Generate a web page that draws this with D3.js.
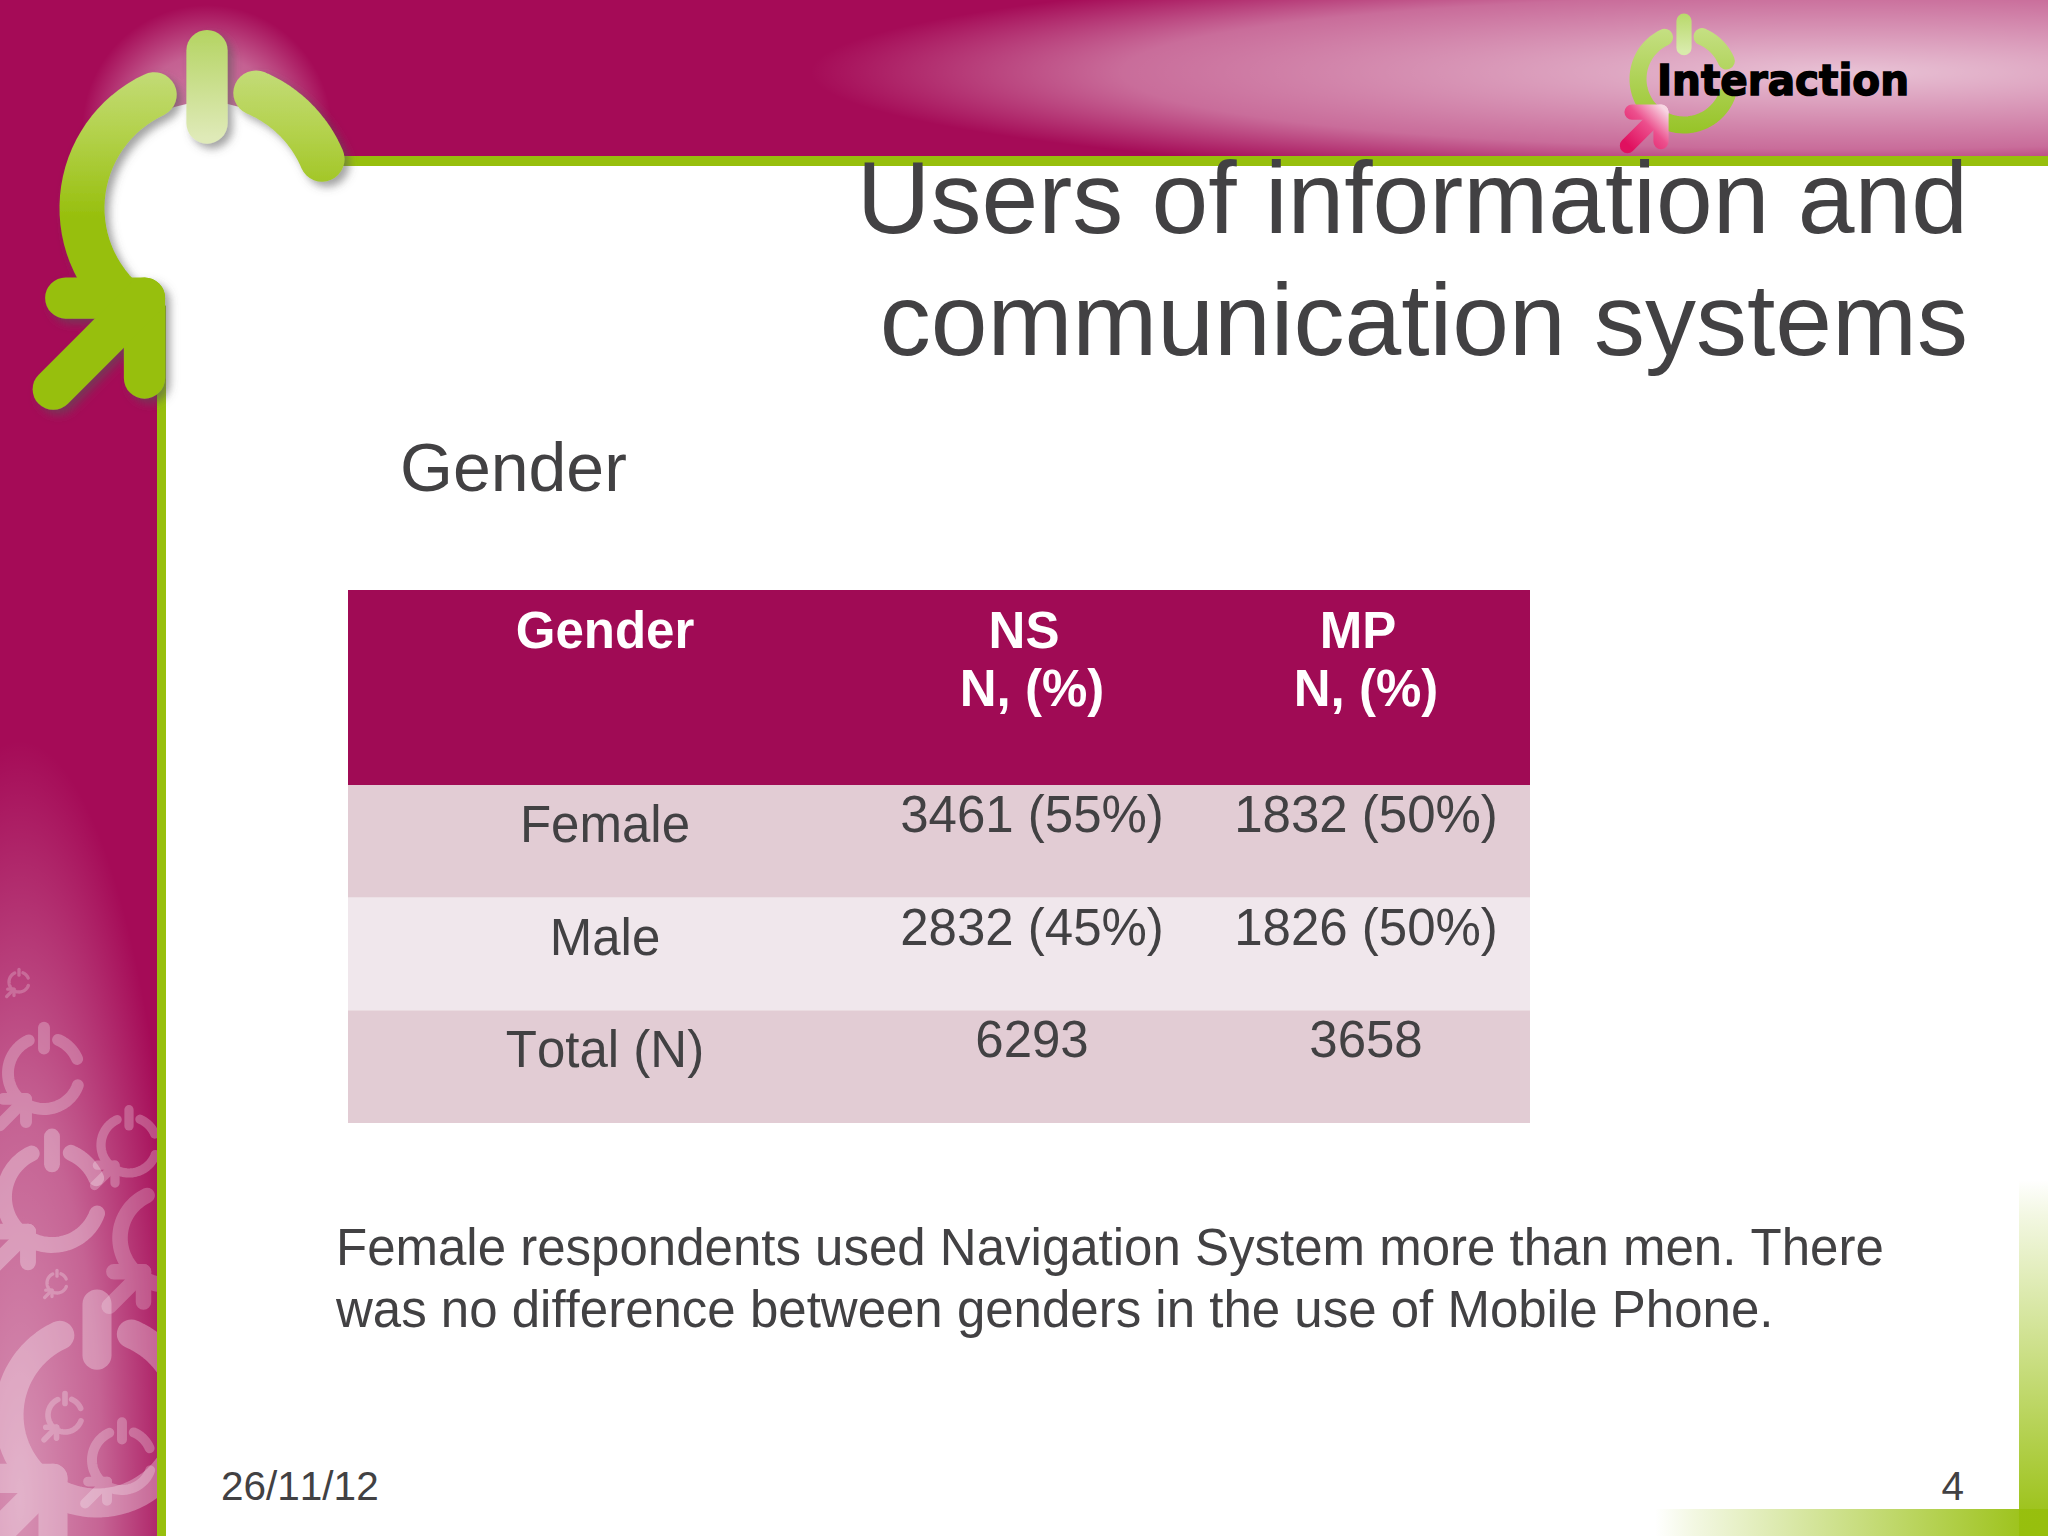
<!DOCTYPE html>
<html>
<head>
<meta charset="utf-8">
<script src="https://cdn.jsdelivr.net/npm/d3@7"></script>
<style>
  html, body { margin: 0; padding: 0; background: #fff; }
  svg { display: block; }
  text { font-family: "Liberation Sans", Arial, sans-serif; fill: #424143; font-kerning: none; }
</style>
</head>
<body>
<svg id="slide"></svg>
<script>
// table content
var columns = ["Gender", "NS", "MP"];
var subHeaders = ["", "N, (%)", "N, (%)"];
var rowLabels = ["Female", "Male", "Total (N)"];
var nsValues = ["3461 (55%)", "2832 (45%)", "6293"];
var mpValues = ["1832 (50%)", "1826 (50%)", "3658"];

var titleLines = ["Users of information and", "communication systems"];
var bodyLines = ["Female respondents used Navigation System more than men. There",
                 "was no difference between genders in the use of Mobile Phone."];

var width = 2048;
var height = 1536;
var purple = "#a50b57";
var green = "#97bf0d";

var svg = d3.select("#slide").attr("width", width).attr("height", height);
var defs = svg.append("defs");

function linear(id, x1, y1, x2, y2, stops, userSpace) {
  var g = defs.append("linearGradient").attr("id", id)
    .attr("x1", x1).attr("y1", y1).attr("x2", x2).attr("y2", y2);
  if (userSpace) g.attr("gradientUnits", "userSpaceOnUse");
  stops.forEach(function(s) {
    g.append("stop").attr("offset", s[0]).attr("stop-color", s[1]).attr("stop-opacity", s[2]);
  });
}
function radial(id, stops) {
  var g = defs.append("radialGradient").attr("id", id);
  stops.forEach(function(s) {
    g.append("stop").attr("offset", s[0]).attr("stop-color", s[1]).attr("stop-opacity", s[2]);
  });
}

linear("rightGreen", 0, 0, 0, 1, [[0, green, 0], [0.1, green, 0.12], [1, green, 1]]);
linear("bottomGreen", 0, 0, 1, 0, [[0, green, 0], [0.1, green, 0.12], [1, green, 1]]);
// these run in the logo's own coordinates
linear("bigRing", 0, -150, 0, 10, [[0, "#c6dd80", 1], [0.45, "#b4d24e", 1], [1, green, 1]], true);
linear("bigBar", 0, -176, 0, -70, [[0, "#b5d463", 1], [1, "#dfeab8", 1]], true);
linear("smallRing", 0, -60, 0, 60, [[0, "#c9e28b", 1], [1, "#94c222", 1]], true);
linear("smallBar", 0, -65, 0, -28, [[0, "#b9d96c", 1], [1, "#d8ebab", 1]], true);
linear("pinkArrow", -56, 66, -20, 30, [[0, "#e0105f", 1], [0.55, "#ec4f8d", 1], [1, "#f7d5e2", 1]], true);
radial("glow", [[0, "#fff", 0.5], [0.6, "#fff", 0.35], [1, "#fff", 0]]);
radial("topGlow", [[0, "#fff", 0.75], [0.7, "#fff", 0.4], [1, "#fff", 0]]);
radial("sideGlow", [[0, "#fff", 0.55], [0.5, "#fff", 0.36], [1, "#fff", 0]]);

var shadow = defs.append("filter").attr("id", "shadow")
  .attr("x", "-20%").attr("y", "-20%").attr("width", "150%").attr("height", "150%");
shadow.append("feDropShadow").attr("dx", 5).attr("dy", 5).attr("stdDeviation", 4)
  .attr("flood-color", "#555").attr("flood-opacity", 0.55);

defs.append("clipPath").attr("id", "headerClip").append("rect")
  .attr("width", width).attr("height", 156);
defs.append("clipPath").attr("id", "sideClip").append("rect")
  .attr("width", 157).attr("height", height);

// background
svg.append("rect").attr("width", width).attr("height", height).attr("fill", "#fff");
svg.append("rect").attr("width", width).attr("height", 156).attr("fill", purple);
svg.append("rect").attr("width", 157).attr("height", height).attr("fill", purple);

// top right glow
svg.append("g").attr("clip-path", "url(#headerClip)")
  .append("ellipse").attr("cx", 1850).attr("cy", 72).attr("rx", 1040).attr("ry", 110)
  .attr("fill", "url(#topGlow)");

// power button logo, r is the mid radius of the ring
function arcPath(r, from, to) {
  var pts = d3.range(0, 31).map(function(i) {
    var a = (from + (to - from) * i / 30) * Math.PI / 180;
    return [r * Math.sin(a), -r * Math.cos(a)];
  });
  return d3.line()(pts);
}
function drawLogo(parent, cx, cy, r, opts) {
  var g = parent.append("g").attr("transform", "translate(" + cx + "," + cy + ")")
    .attr("fill", "none").attr("stroke", opts.color)
    .attr("stroke-width", r * (opts.ring || 0.33))
    .attr("stroke-linecap", "round").attr("stroke-linejoin", "round")
    .attr("opacity", opts.opacity === undefined ? 1 : opts.opacity);
  g.append("path").attr("d", arcPath(r, 23, 67));
  g.append("path").attr("d", arcPath(r, 222, 335));
  if (opts.bottomArc) g.append("path").attr("d", arcPath(r, 110, 222));
  g.append("path").attr("d", "M0," + (-r * 1.26) + "L0," + (-r * 0.68))
    .attr("stroke", opts.barColor || opts.color).attr("stroke-width", r * 0.33);
  var arrow = g.append("g").attr("stroke", opts.arrowColor || opts.color).attr("stroke-width", r * 0.33);
  // the two barbs and then the shaft
  arrow.append("path").attr("d", "M" + (-r * 1.13) + "," + (r * 0.72) + "L" + (-r * 0.5) + "," + (r * 0.72)
    + "L" + (-r * 0.5) + "," + (r * 1.36));
  arrow.append("path").attr("d", "M" + (-r * 1.23) + "," + (r * 1.45) + "L" + (-r * 0.5) + "," + (r * 0.72));
  return g;
}

// left strip: glow and faded logos
var side = svg.append("g").attr("clip-path", "url(#sideClip)");
side.append("ellipse").attr("cx", 20).attr("cy", 1500).attr("rx", 165).attr("ry", 760)
  .attr("fill", "url(#sideGlow)");
[[19, 982, 10, 0.22], [44, 1073, 36, 0.25], [129, 1145, 28, 0.25], [52, 1197, 48, 0.3],
 [167, 1238, 47, 0.22], [57, 1283, 10, 0.25], [97, 1415, 88, 0.3], [65, 1415, 17, 0.25],
 [122, 1460, 30, 0.25]].forEach(function(d) {
  drawLogo(side, d[0], d[1], d[2], {color: "#fff", opacity: d[3], bottomArc: true});
});

// green rules and corner fades
svg.append("rect").attr("x", 166).attr("y", 156).attr("width", width - 166).attr("height", 10).attr("fill", green);
svg.append("rect").attr("x", 157).attr("y", 156).attr("width", 9).attr("height", height - 156).attr("fill", green);
svg.append("rect").attr("x", 2019).attr("y", 1180).attr("width", 29).attr("height", 356).attr("fill", "url(#rightGreen)");
svg.append("rect").attr("x", 1655).attr("y", 1509).attr("width", 393).attr("height", 27).attr("fill", "url(#bottomGreen)");

// big logo, the white disc sits over the purple
svg.append("circle").attr("cx", 207).attr("cy", 130).attr("r", 125).attr("fill", "url(#glow)").attr("clip-path", "url(#headerClip)");
svg.append("circle").attr("cx", 207).attr("cy", 208).attr("r", 106).attr("fill", "#fff");
svg.append("rect").attr("x", 166).attr("y", 208).attr("width", 60).attr("height", 110).attr("fill", "#fff");
drawLogo(svg, 207, 208, 125, {color: "url(#bigRing)", barColor: "url(#bigBar)", arrowColor: green, ring: 0.36})
  .attr("filter", "url(#shadow)");

// small logo at the top right
drawLogo(svg, 1684, 79, 46, {color: "url(#smallRing)", barColor: "url(#smallBar)", arrowColor: "url(#pinkArrow)", bottomArc: true, ring: 0.37});
svg.append("text").attr("x", 1657).attr("y", 95)
  .style("font-family", "'DejaVu Sans'").style("font-weight", "bold").style("font-size", "42px")
  .style("fill", "#000").attr("stroke", "#000").attr("stroke-width", 1.5)
  .attr("textLength", 252).attr("lengthAdjust", "spacingAndGlyphs")
  .text("Interaction");

// title
svg.selectAll(".title").data(titleLines).enter().append("text")
  .attr("class", "title").attr("x", 1968)
  .attr("y", function(d, i) { return 233 + i * 122; })
  .attr("text-anchor", "end").style("font-size", "102px").text(function(d) { return d; });

svg.append("text").attr("x", 400).attr("y", 491).style("font-size", "68px").text("Gender");

// table
var x = d3.scaleOrdinal().domain(columns).range([605, 1032, 1366]);
var y = d3.scaleBand().domain(rowLabels).range([785, 1123]);
var tableLeft = 348, tableRight = 1530, tableTop = 590;

svg.append("rect").attr("x", tableLeft).attr("y", tableTop)
  .attr("width", tableRight - tableLeft).attr("height", y.range()[0] - tableTop).attr("fill", "#a00b55");
svg.selectAll(".row").data(rowLabels).enter().append("rect")
  .attr("class", "row").attr("x", tableLeft).attr("y", function(d) { return y(d); })
  .attr("width", tableRight - tableLeft).attr("height", y.bandwidth())
  .attr("fill", function(d, i) { return i % 2 ? "#f0e7ec" : "#e2ccd4"; });

function cell(txt, cx, cy, bold, fill) {
  var t = svg.append("text").attr("x", cx).attr("y", cy).attr("text-anchor", "middle")
    .style("font-size", "51px").text(txt);
  if (bold) t.style("font-weight", "bold");
  if (fill) t.style("fill", fill);
}
columns.forEach(function(c, i) {
  // NS and MP sit a little left of their N, (%) line
  cell(c, x(c) - (i ? 8 : 0), 648, true, "#fff");
  if (subHeaders[i]) cell(subHeaders[i], x(c), 706, true, "#fff");
});
rowLabels.forEach(function(r, i) {
  cell(r, x("Gender"), y(r) + 57, false);
  cell(nsValues[i], x("NS"), y(r) + 47, false);
  cell(mpValues[i], x("MP"), y(r) + 47, false);
});

// comment under the table
svg.selectAll(".body").data(bodyLines).enter().append("text")
  .attr("class", "body").attr("x", 336)
  .attr("y", function(d, i) { return 1265 + i * 62; })
  .style("font-size", "51px").text(function(d) { return d; });

svg.append("text").attr("x", 221).attr("y", 1500).style("font-size", "40.5px").text("26/11/12");
svg.append("text").attr("x", 1964).attr("y", 1500).attr("text-anchor", "end").style("font-size", "40.5px").text("4");
</script>
</body>
</html>
